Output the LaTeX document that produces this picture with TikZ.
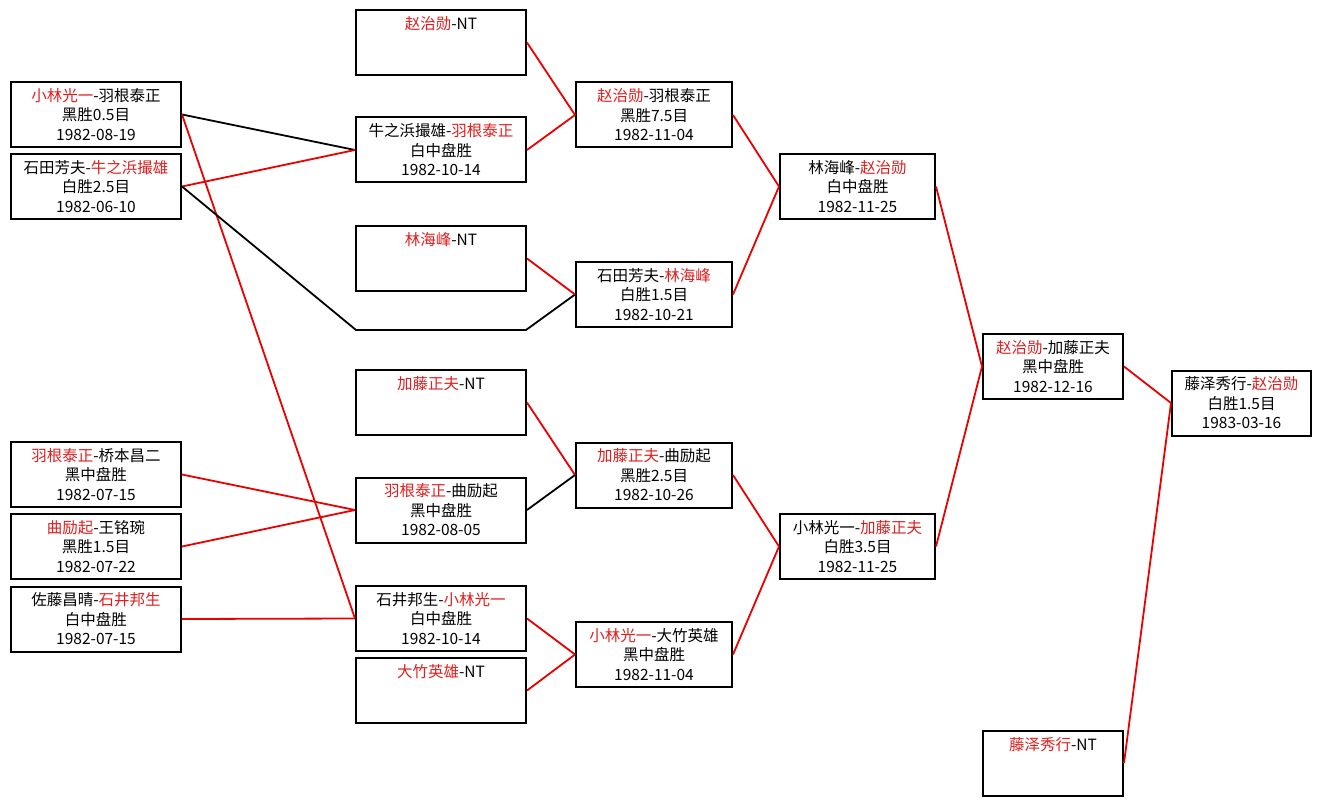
\documentclass[tikz,border=0pt]{standalone}
\usepackage{fontspec}
\setmainfont{Noto Sans CJK SC}
\definecolor{tred}{RGB}{225,30,30}
\definecolor{lred}{RGB}{235,0,0}
\newcommand\rd[1]{\textcolor{tred}{#1}}
\begin{document}
\begin{tikzpicture}[x=1pt,y=-1pt,
  box/.style={draw=black,line width=2pt,inner sep=0pt,align=center,
    font=\fontsize{15.5}{19.5}\selectfont,fill=white},
  c1/.style={box,minimum width=170pt,minimum height=65pt},
  c2/.style={box,minimum width=170pt,minimum height=65pt},
  c3/.style={box,minimum width=156pt,minimum height=65pt},
  c4/.style={box,minimum width=155pt,minimum height=65pt},
  c5/.style={box,minimum width=140pt,minimum height=65pt},
  c6/.style={box,minimum width=139pt,minimum height=65pt},
  rl/.style={draw=lred,line width=1.8pt},
  bl/.style={draw=black,line width=1.8pt}]
\fill[white] (0,0) rectangle (1320,805);
\useasboundingbox (0,0) rectangle (1320,805);
\coordinate (b1) at (356,330);
\coordinate (b2) at (526,330);
% column 1
\node[c1] (A) at (96,114.5) {\rd{小林光一}-羽根泰正\\黑胜0.5目\\1982-08-19};
\node[c1] (B) at (96,186.5) {石田芳夫-\rd{牛之浜撮雄}\\白胜2.5目\\1982-06-10};
\node[c1] (C) at (96,474.5) {\rd{羽根泰正}-桥本昌二\\黑中盘胜\\1982-07-15};
\node[c1] (D) at (96,546.5) {\rd{曲励起}-王铭琬\\黑胜1.5目\\1982-07-22};
\node[c1] (E) at (96,619) {佐藤昌晴-\rd{石井邦生}\\白中盘胜\\1982-07-15};
% column 2
\node[c2] (N1) at (441,42.5) {\rd{赵治勋}-NT\\\mbox{}\\\mbox{}};
\node[c2] (N2) at (441,150) {牛之浜撮雄-\rd{羽根泰正}\\白中盘胜\\1982-10-14};
\node[c2] (N3) at (441,258.5) {\rd{林海峰}-NT\\\mbox{}\\\mbox{}};
\node[c2] (N4) at (441,402.5) {\rd{加藤正夫}-NT\\\mbox{}\\\mbox{}};
\node[c2] (N5) at (441,510) {\rd{羽根泰正}-曲励起\\黑中盘胜\\1982-08-05};
\node[c2] (N6) at (441,618.5) {石井邦生-\rd{小林光一}\\白中盘胜\\1982-10-14};
\node[c2] (N7) at (441,690.5) {\rd{大竹英雄}-NT\\\mbox{}\\\mbox{}};
% column 3
\node[c3] (M1) at (654,115) {\rd{赵治勋}-羽根泰正\\黑胜7.5目\\1982-11-04};
\node[c3] (M2) at (654,294.5) {石田芳夫-\rd{林海峰}\\白胜1.5目\\1982-10-21};
\node[c3] (M3) at (654,475) {\rd{加藤正夫}-曲励起\\黑胜2.5目\\1982-10-26};
\node[c3] (M4) at (654,654.5) {\rd{小林光一}-大竹英雄\\黑中盘胜\\1982-11-04};
% column 4
\node[c4] (Q1) at (857.5,186.5) {林海峰-\rd{赵治勋}\\白中盘胜\\1982-11-25};
\node[c4] (Q2) at (857.5,546.5) {小林光一-\rd{加藤正夫}\\白胜3.5目\\1982-11-25};
% column 5
\node[c5] (S1) at (1053,366.5) {\rd{赵治勋}-加藤正夫\\黑中盘胜\\1982-12-16};
\node[c5] (S2) at (1053,763) {\rd{藤泽秀行}-NT\\\mbox{}\\\mbox{}};
% column 6
\node[c6] (F) at (1241.5,403) {藤泽秀行-\rd{赵治勋}\\白胜1.5目\\1983-03-16};
% connectors
\draw[bl] (A.east) -- (N2.west);
\draw[rl] (B.east) -- (N2.west);
\draw[rl] (A.east) -- (N6.west);
\draw[bl] (B.east) -- (b1) -- (b2) -- (M2.west);
\draw[rl] (C.east) -- (N5.west);
\draw[rl] (D.east) -- (N5.west);
\draw[rl] (E.east) -- (N6.west);
\draw[rl] (N1.east) -- (M1.west);
\draw[rl] (N2.east) -- (M1.west);
\draw[rl] (N3.east) -- (M2.west);
\draw[rl] (N4.east) -- (M3.west);
\draw[bl] (N5.east) -- (M3.west);
\draw[rl] (N6.east) -- (M4.west);
\draw[rl] (N7.east) -- (M4.west);
\draw[rl] (M1.east) -- (Q1.west);
\draw[rl] (M2.east) -- (Q1.west);
\draw[rl] (M3.east) -- (Q2.west);
\draw[rl] (M4.east) -- (Q2.west);
\draw[rl] (Q1.east) -- (S1.west);
\draw[rl] (Q2.east) -- (S1.west);
\draw[rl] (S1.east) -- (F.west);
\draw[rl] (S2.east) -- (F.west);
\end{tikzpicture}
\end{document}
